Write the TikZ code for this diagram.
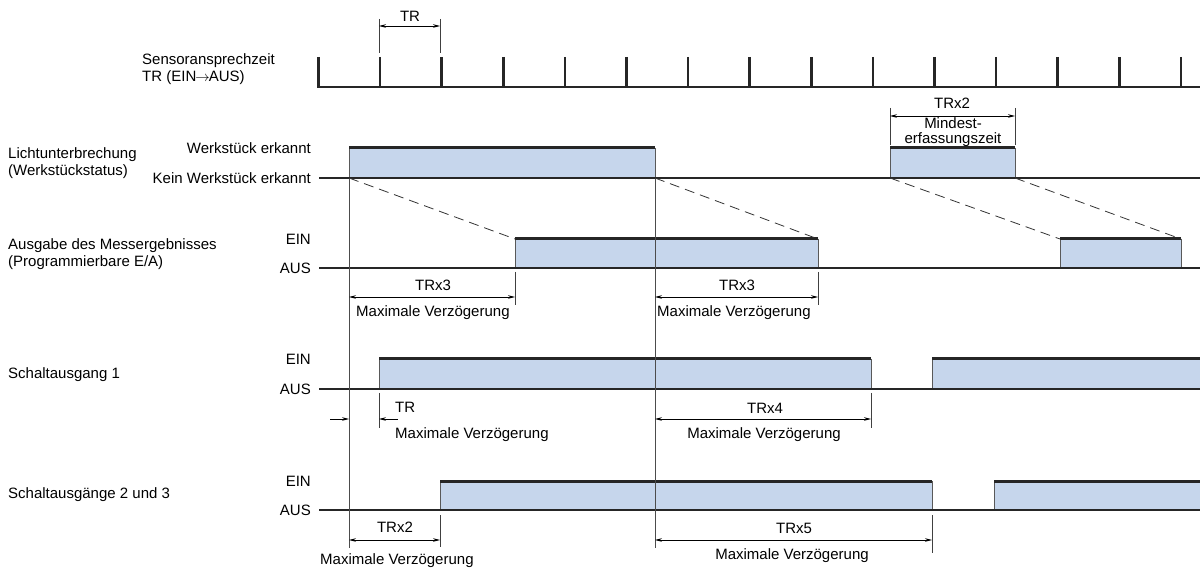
\documentclass[tikz,border=0pt]{standalone}
\usepackage{fontspec}
\setmainfont{Liberation Sans}
\usetikzlibrary{arrows.meta}
\definecolor{pulsefill}{RGB}{198,214,236}
\newcommand\pulsebox[4]{%
  \fill[pulsefill] (#1,#3) rectangle (#2,#4);
  \draw[pedge] (#1,#4) -- (#1,#3) (#2,#3) -- (#2,#4);
  \draw[hitop] (#1,#3) -- (#2,#3);}
\begin{document}
\begin{tikzpicture}[x=1pt,y=-1pt,
  font=\fontsize{15}{17}\selectfont,
  base/.style={line width=1.6pt, draw=black!85},
  tickmark/.style={line width=2.6pt, draw=black!85},
  hitop/.style={line width=3pt, draw=black!85},
  pedge/.style={line width=0.9pt, draw=black!65},
  refline/.style={line width=0.8pt, draw=black!70},
  extline/.style={line width=0.8pt, draw=black!75},
  dimline/.style={line width=0.8pt, {Stealth[length=7pt,width=3.6pt]}-{Stealth[length=7pt,width=3.6pt]}},
  arrin/.style={line width=0.8pt, -{Stealth[length=7pt,width=3.6pt]}},
  dashline/.style={line width=0.8pt, draw=black!80, dash pattern=on 10pt off 6pt},
  lbl/.style={inner sep=0pt, anchor=west, align=left, font=\fontsize{15}{17}\selectfont},
  rlbl/.style={inner sep=0pt, anchor=east},
  txt/.style={inner sep=0pt}
  ]
\useasboundingbox (0,0) rectangle (1200,569);

% ---------- left labels ----------
\node[lbl] (lsens) at (142,69) {Sensoransprechzeit\\TR (EIN\kern-1pt$\rightarrow$\kern-1ptAUS)};
\node[lbl] (llicht) at (8,163) {Lichtunterbrechung\\(Werkstückstatus)};
\node[lbl] (lausg) at (8,254) {Ausgabe des Messergebnisses\\(Programmierbare E/A)};
\node[lbl] (ls1) at (8,375) {Schaltausgang 1};
\node[lbl] (ls2) at (8,495) {Schaltausgänge 2 und 3};

\node[rlbl] (lwe) at (311,148) {Werkstück erkannt};
\node[rlbl] (lkwe) at (311,178) {Kein Werkstück erkannt};
\node[rlbl] (ein1) at (311,239) {EIN};
\node[rlbl] (aus1) at (311,268) {AUS};
\node[rlbl] (ein2) at (311,359) {EIN};
\node[rlbl] (aus2) at (311,389) {AUS};
\node[rlbl] (ein3) at (311,481) {EIN};
\node[rlbl] (aus3) at (311,510) {AUS};

% ---------- pulses ----------
\pulsebox{349}{655}{148}{178}
\pulsebox{890}{1015}{148}{178}
\pulsebox{515}{818}{239}{268}
\pulsebox{1060}{1181}{239}{268}
\pulsebox{379}{871}{359}{389}
\pulsebox{932}{1202}{359}{389}
\pulsebox{440}{932}{481}{510}
\pulsebox{994}{1202}{481}{510}

% ---------- sensor ticks ----------
\foreach \i in {0,...,14}
  \draw[tickmark] ({318.5+61.6*\i},57) -- ({318.5+61.6*\i},87.8);
\draw[base] (318,87) -- (1200,87);

% ---------- baselines ----------
\coordinate (b1s) at (319,178); \coordinate (b1e) at (1200,178);
\coordinate (b2s) at (319,268); \coordinate (b2e) at (1200,268);
\coordinate (b3s) at (319,389); \coordinate (b3e) at (1200,389);
\coordinate (b4s) at (319,510); \coordinate (b4e) at (1200,510);
\draw[base] (b1s) -- (b1e);
\draw[base] (b2s) -- (b2e);
\draw[base] (b3s) -- (b3e);
\draw[base] (b4s) -- (b4e);

% ---------- reference lines ----------
\coordinate (ra1) at (349,178); \coordinate (ra2) at (349,548);
\coordinate (rb1) at (655,178); \coordinate (rb2) at (655,548);
\draw[refline] (ra1) -- (ra2);
\draw[refline] (rb1) -- (rb2);

% ---------- dashed transfer lines ----------
\draw[dashline] (349,178) -- (515,239);
\draw[dashline] (655,178) -- (818,239);
\draw[dashline] (890,178) -- (1060,239);
\draw[dashline] (1015,178) -- (1181,239);

% ---------- TR top ----------
\coordinate (tra) at (379,26); \coordinate (trb) at (440,26);
\draw[extline] (379,19) -- (379,53);
\draw[extline] (440,19) -- (440,53);
\draw[dimline] (tra) -- (trb);
\node[txt] (trtxt) at (410,16) {TR};

% ---------- TRx2 Mindesterfassungszeit ----------
\coordinate (ma) at (890,116); \coordinate (mb) at (1015,116);
\draw[extline] (890,108) -- (890,145);
\draw[extline] (1015,108) -- (1015,145);
\draw[dimline] (ma) -- (mb);
\node[txt] (mtx) at (952,103) {TRx2};
\node[txt, align=center, font=\fontsize{15}{15}\selectfont] (mtxt) at (953,132) {Mindest-\\erfassungszeit};

% ---------- TRx3 (1) ----------
\coordinate (d1a) at (349,297); \coordinate (d1b) at (515,297);
\draw[extline] (515,272) -- (515,305);
\draw[dimline] (d1a) -- (d1b);
\node[txt] (d1t) at (433,285) {TRx3};
\node[txt, anchor=west] (d1m) at (356,313) {Maximale Verzögerung};

% ---------- TRx3 (2) ----------
\coordinate (d2a) at (655,297); \coordinate (d2b) at (818,297);
\draw[extline] (818,272) -- (818,305);
\draw[dimline] (d2a) -- (d2b);
\node[txt] (d2t) at (737,285) {TRx3};
\node[txt, anchor=west] (d2m) at (657,313) {Maximale Verzögerung};

% ---------- TR (Schaltausgang 1) ----------
\coordinate (d3l) at (330,419); \coordinate (d3a) at (349,419);
\coordinate (d3r) at (398,419); \coordinate (d3b) at (379,419);
\draw[extline] (379,393) -- (379,428);
\draw[arrin] (d3l) -- (d3a);
\draw[arrin] (d3r) -- (d3b);
\node[txt, anchor=west] (d3t) at (395,407) {TR};
\node[txt, anchor=west] (d3m) at (395,435) {Maximale Verzögerung};

% ---------- TRx4 ----------
\coordinate (d4a) at (655,419); \coordinate (d4b) at (871,419);
\draw[extline] (871,393) -- (871,428);
\draw[dimline] (d4a) -- (d4b);
\node[txt] (d4t) at (765,408) {TRx4};
\node[txt] (d4m) at (764,435) {Maximale Verzögerung};

% ---------- TRx2 (Schaltausgang 2/3) ----------
\coordinate (d5a) at (349,540); \coordinate (d5b) at (440,540);
\draw[extline] (440,515) -- (440,547);
\draw[dimline] (d5a) -- (d5b);
\node[txt] (d5t) at (395,527) {TRx2};
\node[txt, anchor=west] (d5m) at (320,561) {Maximale Verzögerung};

% ---------- TRx5 ----------
\coordinate (d6a) at (655,540); \coordinate (d6b) at (932,540);
\draw[extline] (932,515) -- (932,553);
\draw[dimline] (d6a) -- (d6b);
\node[txt] (d6t) at (794,528) {TRx5};
\node[txt] (d6m) at (792,556) {Maximale Verzögerung};
\end{tikzpicture}
\end{document}
